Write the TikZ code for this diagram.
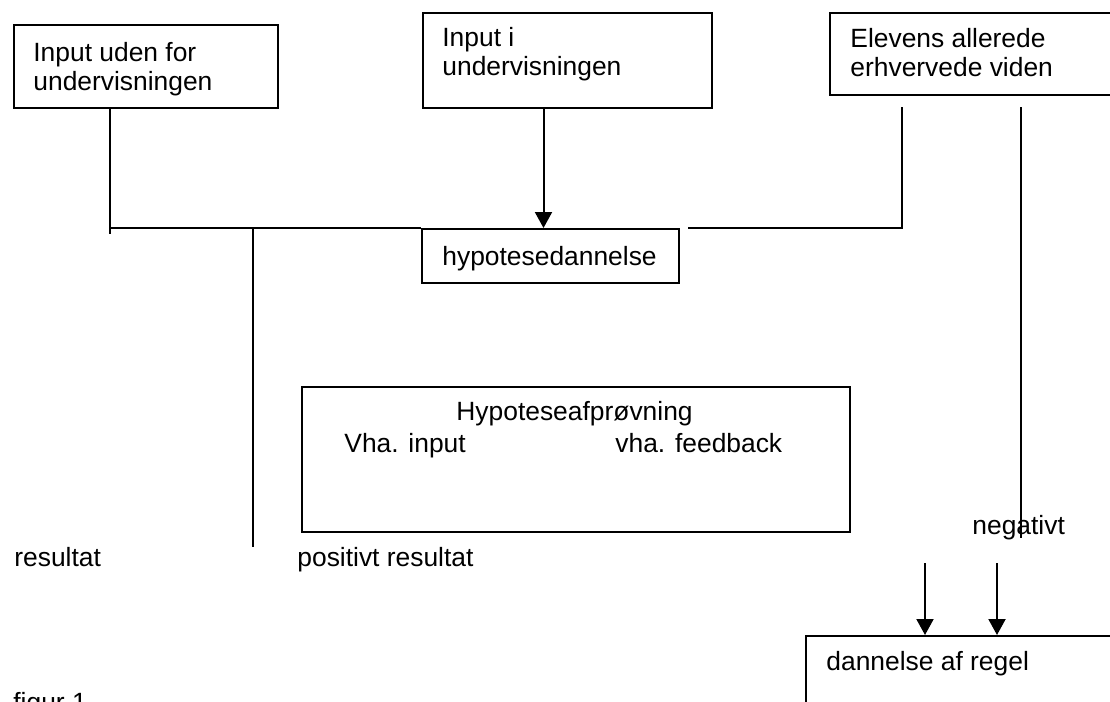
\documentclass[tikz,border=0pt]{standalone}
\usepackage{fontspec}
\setmainfont{Liberation Sans}
\usetikzlibrary{arrows.meta, positioning, calc}
\tikzset{
  stagebox/.style={rectangle, draw=black, line width=1pt, anchor=north west,
                   inner sep=0pt},
  boxtext/.style={anchor=base west, inner sep=0pt, align=left,
                  font=\fontsize{13.2pt}{14.5pt}\selectfont},
  wire/.style={draw=black, line width=1pt},
  flow/.style={wire, -{Triangle[length=8pt,width=8.5pt]}},
}

\begin{document}
\begin{tikzpicture}[x=0.5pt, y=-0.5pt]
  \useasboundingbox (0,0) rectangle (1110,702);

  % --- input sources (top row) ---
  \node[stagebox, minimum width=132pt, minimum height=41.5pt] (outside) at (13,24) {};
  \node[boxtext] (outsidetxt) at (33,90) {Input uden for\\undervisningen};

  \node[stagebox, minimum width=144.5pt, minimum height=47.5pt] (inside) at (422,12) {};
  \node[boxtext] (insidetxt) at (442,75) {Input i\\undervisningen};

  \node[stagebox, minimum width=150pt, minimum height=41pt] (prior) at (829,12) {};
  \node[boxtext] (priortxt) at (850,76) {Elevens allerede\\erhvervede viden};

  % --- hypothesis forming ---
  \node[stagebox, minimum width=128.5pt, minimum height=27pt] (hypform) at (421,228) {};
  \node[boxtext] (hypformtxt) at (442,265) {hypotesedannelse};

  % --- hypothesis testing ---
  \node[stagebox, minimum width=274pt, minimum height=72.5pt] (hyptest) at (301,386) {};
  \node[boxtext] (hyptesttxt) at (456,420) {Hypoteseafprøvning};
  \node[boxtext] (viainput) at (344,452) {Vha. input};
  \node[boxtext] (viafeed) at (615,452) {vha. feedback};

  % --- rule forming (runs off the page) ---
  \node[stagebox, minimum width=160pt, minimum height=50pt] (rule) at (805,635) {};
  \node[boxtext] (ruletxt) at (826,670) {dannelse af regel};

  % --- loose labels ---
  \node[boxtext] (reslab) at (14,566) {resultat};
  \node[boxtext] (poslab) at (297,566) {positivt resultat};
  \node[boxtext] (neglab) at (972,534) {negativt};
  \node[boxtext] (figlab) at (13,711) {figur 1};

  % --- junction points ---
  \coordinate (jleft) at (110,228);
  \coordinate (jstub) at (110,234);
  \coordinate (jpos) at (253,228);
  \coordinate (posend) at (253,547);
  \coordinate (rtop) at (902,107);
  \coordinate (negtop) at (1021,107);
  \coordinate (negend) at (1021,538);
  \coordinate (ruleA) at (925,563);
  \coordinate (ruleB) at (997,563);

  % --- wiring ---
  \draw[wire] (outside.south -| jleft) -- (jstub);
  \draw[wire] (jleft) -- (hypform.north west);
  \draw[wire] (jpos) -- (posend);
  \draw[flow] ([xshift=-12pt]inside.south) -- ([xshift=-12pt]inside.south |- hypform.north);
  \draw[wire] ([xshift=4pt]hypform.north east) -| (rtop);
  \draw[wire] (negtop) -- (negend);
  \draw[flow] (ruleA) -- (ruleA |- rule.north);
  \draw[flow] (ruleB) -- (ruleB |- rule.north);

\end{tikzpicture}
\end{document}
